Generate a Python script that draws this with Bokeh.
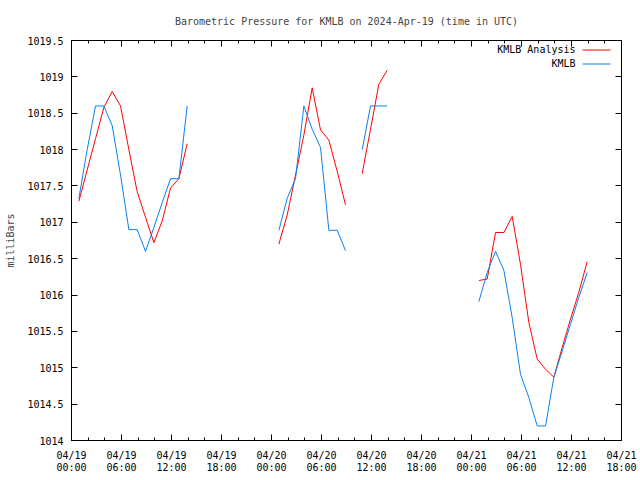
import numpy as np
import pandas as pd
from bokeh.plotting import figure
from bokeh.models import (Range1d, FixedTicker, DatetimeTickFormatter, DatetimeAxis,
                          LinearAxis, CustomJSTickFormatter, Label, BoxAnnotation)
from bokeh.embed import file_html
from bokeh.resources import INLINE

# ---------------- data (hours after 2024-04-19 00:53 UTC) ----------------
hours_seg1 = [0, 1, 2, 3, 4, 5, 6, 7, 8, 9, 10, 11, 12, 13]
obs_seg1 = [1017.33, 1018.0, 1018.6, 1018.6, 1018.33, 1017.65, 1016.9, 1016.9,
            1016.6, 1016.93, 1017.27, 1017.6, 1017.6, 1018.6]
ana_seg1 = [1017.29, 1017.72, 1018.15, 1018.58, 1018.8, 1018.6, 1018.0, 1017.42,
            1017.07, 1016.72, 1017.02, 1017.47, 1017.6, 1018.08]

hours_seg2 = [24, 25, 26, 27, 28, 29, 30, 31, 32]
obs_seg2 = [1016.89, 1017.33, 1017.6, 1018.6, 1018.28, 1018.03, 1016.89, 1016.89, 1016.61]
ana_seg2 = [1016.7, 1017.1, 1017.65, 1018.2, 1018.85, 1018.27, 1018.13, 1017.7, 1017.24]

hours_seg3 = [34, 35, 36, 37]
obs_seg3 = [1018.0, 1018.6, 1018.6, 1018.6]
ana_seg3 = [1017.67, 1018.28, 1018.9, 1019.09]

hours_seg4 = [48, 49, 50, 51, 52, 53, 54, 55, 56, 57, 58, 59, 60, 61]
obs_seg4 = [1015.91, 1016.31, 1016.6, 1016.34, 1015.69, 1014.91, 1014.59, 1014.2,
            1014.2, 1014.87, 1015.23, 1015.6, 1015.97, 1016.31]
ana_seg4 = [1016.2, 1016.22, 1016.86, 1016.86, 1017.08, 1016.42, 1015.62, 1015.12,
            1014.98, 1014.87, 1015.28, 1015.67, 1016.04, 1016.46]

tick_labels_fmt = "%m/%d\n%H:%M"
title_text = "Barometric Pressure for KMLB on 2024-Apr-19 (time in UTC)"

base_time = pd.Timestamp("2024-04-19 00:53")
axis_start = pd.Timestamp("2024-04-19 00:00")
axis_end = pd.Timestamp("2024-04-21 18:00")

# ---------------- build broken series ----------------
segs = [(hours_seg1, obs_seg1, ana_seg1), (hours_seg2, obs_seg2, ana_seg2),
        (hours_seg3, obs_seg3, ana_seg3), (hours_seg4, obs_seg4, ana_seg4)]
xs, yo, ya = [], [], []
for h, o, a in segs:
    t = [base_time + pd.Timedelta(hours=v) for v in h]
    xs += t + [t[-1] + pd.Timedelta(minutes=30)]
    yo += list(o) + [np.nan]
    ya += list(a) + [np.nan]
xs = pd.to_datetime(xs)
yo = np.array(yo, dtype=float)
ya = np.array(ya, dtype=float)

FONT = "DejaVu Sans Mono"
FS = "10px"

p = figure(width=640, height=480, x_axis_type="datetime",
           x_range=Range1d(axis_start, axis_end), y_range=Range1d(1014, 1019.5),
           output_backend="svg", toolbar_location=None,
           min_border_left=71, min_border_right=19, min_border_top=40, min_border_bottom=40)
p.background_fill_color = "white"
p.border_fill_color = "white"
p.outline_line_color = "black"
p.outline_line_width = 1
p.xgrid.visible = False
p.ygrid.visible = False

p.title.text = title_text
p.title.align = "center"
p.title.text_font = FONT
p.title.text_font_size = FS
p.title.text_font_style = "normal"
p.title.standoff = 27

ms0 = int(axis_start.value // 10**6)
hour_ms = 3600 * 1000
major = [ms0 + i * 6 * hour_ms for i in range(12)]
minor = [ms0 + i * 2 * hour_ms for i in range(34)]
xt = FixedTicker(ticks=major, minor_ticks=minor)
fmt = DatetimeTickFormatter(microseconds=tick_labels_fmt, milliseconds=tick_labels_fmt,
                            seconds=tick_labels_fmt, minsec=tick_labels_fmt,
                            minutes=tick_labels_fmt, hourmin=tick_labels_fmt,
                            hours=tick_labels_fmt, days=tick_labels_fmt,
                            months=tick_labels_fmt, years=tick_labels_fmt)
yt = FixedTicker(ticks=[1014 + 0.5 * i for i in range(12)])
yfmt = CustomJSTickFormatter(code="return tick.toString();")


def style(ax, labels=True):
    ax.axis_line_color = "black"
    ax.major_tick_in = 6
    ax.major_tick_out = 0
    ax.major_tick_line_color = "black"
    ax.major_label_text_font = FONT
    ax.major_label_text_font_size = FS if labels else "0px"
    ax.major_label_text_color = "black"
    ax.axis_label_text_font = FONT
    ax.axis_label_text_font_size = FS
    ax.axis_label_text_font_style = "normal"


xa = p.xaxis[0]
xa.ticker = xt
xa.formatter = fmt
style(xa)
xa.minor_tick_in = 3
xa.minor_tick_out = 0
xa.minor_tick_line_color = "black"
xa.major_label_standoff = 9
xa.major_label_text_line_height = 1.1

ya_ax = p.yaxis[0]
ya_ax.ticker = yt
ya_ax.formatter = yfmt
style(ya_ax)
ya_ax.minor_tick_line_color = None
ya_ax.major_label_standoff = 8
ya_ax.axis_label = "milliBars"
ya_ax.axis_label_standoff = 8

top = DatetimeAxis(ticker=xt, formatter=fmt)
style(top, labels=False)
top.minor_tick_in = 3
top.minor_tick_out = 0
top.major_label_standoff = 0
p.add_layout(top, "above")

right = LinearAxis(ticker=yt, formatter=yfmt)
style(right, labels=False)
right.minor_tick_line_color = None
right.major_label_standoff = 0
p.add_layout(right, "right")

RED = "#ff0000"
BLUE = "#0a80f0"
p.line(xs, ya, line_color=RED, line_width=1)
p.line(xs, yo, line_color=BLUE, line_width=1)

# legend drawn gnuplot-style (text left of sample line), positions in frame screen units
for txt, color, sy in [("KMLB Analysis", RED, 391), ("KMLB", BLUE, 377)]:
    p.add_layout(Label(x=504, y=sy, x_units="screen", y_units="screen", text=txt,
                       text_align="right", text_baseline="middle",
                       text_font=FONT, text_font_size=FS, text_color="black"))
    p.add_layout(BoxAnnotation(left=511, right=539, bottom=sy - 1, top=sy,
                               left_units="screen", right_units="screen",
                               top_units="screen", bottom_units="screen",
                               fill_color=color, fill_alpha=1.0, line_color=None))

open("out.html", "w").write(file_html(p, INLINE))
